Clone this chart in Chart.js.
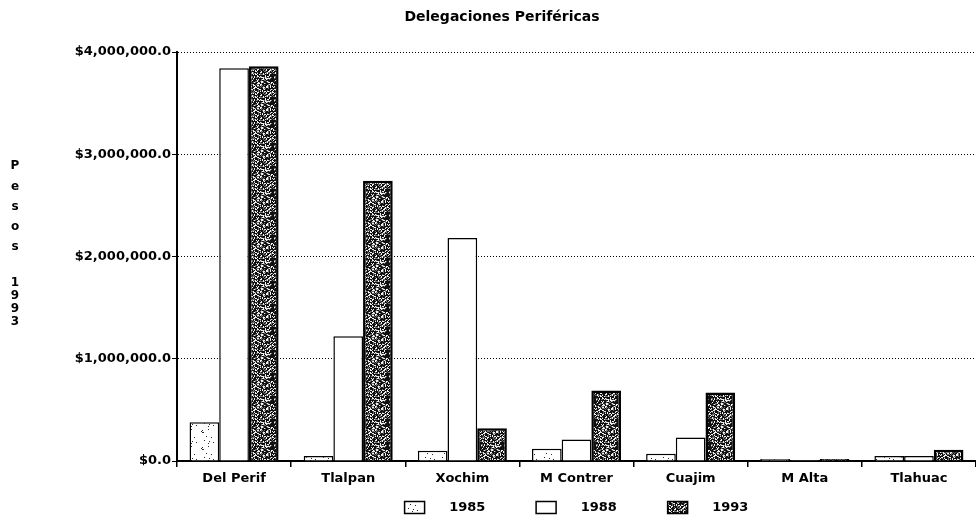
<!DOCTYPE html>
<html>
<head>
<meta charset="utf-8">
<script src="https://cdn.jsdelivr.net/npm/chart.js@4"></script>
<style>
  html, body { margin: 0; padding: 0; background: #fff; }
  #wrap { width: 976px; height: 530px; position: relative; }
</style>
</head>
<body>
<div id="wrap"><canvas id="chart"></canvas></div>
<script>
// ===================== DATA =====================
const categories = ['Del Perif', 'Tlalpan', 'Xochim', 'M Contrer', 'Cuajim', 'M Alta', 'Tlahuac'];
const years = ['1985', '1988', '1993'];
const values1985 = [380000, 50000, 100000, 120000, 70000, 20000, 50000];
const values1988 = [3840000, 1220000, 2180000, 210000, 230000, 10000, 50000];
const values1993 = [3860000, 2740000, 320000, 690000, 670000, 20000, 110000];
const yTicks = [0, 1000000, 2000000, 3000000, 4000000];
const chartTitle = 'Delegaciones Periféricas';
const yTitle = 'Pesos 1993';

const FONT = "'DejaVu Sans', sans-serif";

// ===================== PATTERNS =====================
// deterministic speckle textures, like the old print shading
function hash(i) {
  const s = Math.sin(i * 12.9898 + 78.233) * 43758.5453;
  return s - Math.floor(s);
}

function makePattern(size, pick) {
  const c = document.createElement('canvas');
  c.width = size; c.height = size;
  const g = c.getContext('2d');
  const img = g.createImageData(size, size);
  for (let i = 0; i < size * size; i++) {
    const v = pick(hash(i + 1), i);
    img.data[i * 4] = v; img.data[i * 4 + 1] = v; img.data[i * 4 + 2] = v; img.data[i * 4 + 3] = 255;
  }
  g.putImageData(img, 0, 0);
  return g.createPattern(c, 'repeat');
}

const ctx = document.getElementById('chart').getContext('2d');
const lightDots = makePattern(17, h => h < 0.05 ? 40 : 255);
const darkSpeckle = makePattern(23, h => h < 0.55 ? 15 : (h < 0.75 ? 110 : 240));

// ===================== PLUGINS =====================
const extraText = {
  id: 'extraText',
  afterDraw(chart) {
    const c = chart.ctx;
    c.save();
    c.fillStyle = '#000';
    c.textAlign = 'center';
    c.textBaseline = 'middle';
    c.font = 'bold 14px ' + FONT;
    c.fillText(chartTitle, 502, 17);

    // stacked upright letters for the y axis title
    c.font = 'bold 12px ' + FONT;
    const ys = [166, 187, 207, 227, 247, null, 283, 296, 309, 322];
    yTitle.split('').forEach((ch, i) => {
      if (ch !== ' ' && ys[i] != null) c.fillText(ch, 15, ys[i]);
    });
    c.restore();
  }
};

// ===================== CHART =====================
function money(v) {
  return '$' + Number(v).toLocaleString('en-US') + '.0';
}

new Chart(ctx, {
  type: 'bar',
  data: {
    labels: categories,
    datasets: [
      { label: years[0], data: values1985, backgroundColor: lightDots, borderColor: '#000', borderWidth: 1.5 },
      { label: years[1], data: values1988, backgroundColor: '#fff', borderColor: '#000', borderWidth: 1.5 },
      { label: years[2], data: values1993, backgroundColor: darkSpeckle, borderColor: '#000', borderWidth: 2.5 },
    ]
  },
  options: {
    responsive: true,
    maintainAspectRatio: false,
    animation: false,
    categoryPercentage: 0.78,
    barPercentage: 1,
    layout: { padding: { top: 52, right: 0, bottom: 6, left: 0 } },
    plugins: {
      title: { display: false },
      tooltip: { enabled: false },
      legend: {
        position: 'bottom',
        fullSize: false,
        labels: {
          color: '#000',
          font: { family: FONT, weight: 'bold', size: 13 },
          boxWidth: 20,
          boxHeight: 12,
          padding: 10,
          generateLabels(chart) {
            const base = Chart.defaults.plugins.legend.labels.generateLabels(chart);
            return base.map((l, i) => {
              l.text = '    ' + l.text + (i < base.length - 1 ? '         ' : '');
              l.lineWidth = 1.5;
              l.strokeStyle = '#000';
              return l;
            });
          }
        }
      }
    },
    scales: {
      x: {
        grid: { offset: true, drawOnChartArea: false, color: '#000', tickLength: 6, lineWidth: 1.5 },
        border: { color: '#000', width: 2 },
        ticks: { color: '#000', font: { family: FONT, weight: 'bold', size: 13 }, padding: 4, maxRotation: 0 },
        afterFit(scale) { scale.height = 30; }
      },
      y: {
        min: 0,
        max: yTicks[yTicks.length - 1],
        afterBuildTicks(scale) { scale.ticks = yTicks.map(v => ({ value: v })); },
        grid: { color: '#000', lineWidth: 1, tickLength: 5, tickBorderDash: [] },
        border: { color: '#000', width: 2, dash: [1, 2] },
        ticks: {
          color: '#000',
          font: { family: FONT, weight: 'bold', size: 13 },
          padding: 1,
          callback: v => money(v)
        },
        afterFit(scale) { scale.width = 177; }
      }
    }
  },
  plugins: [extraText]
});
</script>
</body>
</html>
